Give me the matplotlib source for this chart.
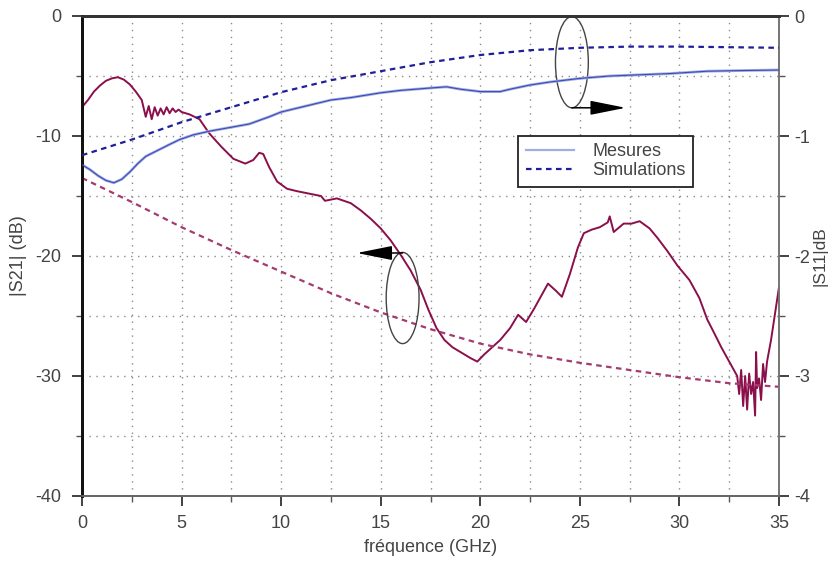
import matplotlib
matplotlib.use("Agg")
import matplotlib.pyplot as plt
from matplotlib.patches import Ellipse
from matplotlib.lines import Line2D
from matplotlib.ticker import MultipleLocator

plt.rcParams['font.family'] = ['Liberation Sans', 'DejaVu Sans']
plt.rcParams['axes.unicode_minus'] = False

# ---------------- data ----------------
# |S21| measured (left axis, dB)
freq_s21_meas = [0, 0.3, 0.6, 0.9, 1.2, 1.5, 1.8, 2.1, 2.4, 2.7, 3.0,
                 3.2, 3.35, 3.5, 3.65, 3.8, 3.95, 4.1, 4.25, 4.4, 4.55, 4.7, 4.85, 5.0,
                 5.4, 5.9, 6.4, 7.0, 7.6, 8.2, 8.6, 8.9, 9.1, 9.4, 9.8,
                 10.3, 10.8, 11.4, 12.0, 12.2, 12.8, 13.5, 14.0, 14.5, 15.0,
                 15.5, 16.0, 16.5, 17.0, 17.4, 17.8, 18.2, 18.6, 19.0, 19.5,
                 19.85, 20.2, 20.6, 21.0, 21.5, 21.9, 22.3, 22.7, 23.1, 23.4,
                 23.8, 24.1, 24.5, 24.9, 25.2, 25.6, 26.0, 26.4, 26.5, 26.7,
                 27.2, 27.6, 28.0, 28.5, 28.9, 29.4, 29.9, 30.5, 31.0, 31.4,
                 31.8, 32.1, 32.5, 32.9, 33.0, 33.1, 33.2, 33.3, 33.4, 33.5,
                 33.6, 33.7, 33.8, 33.85, 33.9, 34.0, 34.1, 34.2, 34.3, 34.4,
                 34.6, 34.8, 35.0]
s21_meas = [-7.6, -7.0, -6.3, -5.8, -5.4, -5.2, -5.1, -5.3, -5.7, -6.3, -7.0,
            -8.4, -7.5, -8.6, -7.6, -8.3, -7.7, -8.2, -7.6, -8.1, -7.7, -8.0, -7.8, -8.0,
            -8.2, -8.6, -9.8, -10.9, -11.9, -12.3, -12.0, -11.4, -11.5, -12.6, -13.8,
            -14.4, -14.6, -14.8, -15.0, -15.4, -15.2, -15.6, -16.2, -16.9, -17.7,
            -18.7, -19.9, -21.2, -22.8, -24.5, -26.0, -27.0, -27.6, -28.0, -28.5,
            -28.8, -28.2, -27.6, -27.0, -26.0, -24.9, -25.5, -24.4, -23.2, -22.3,
            -22.9, -23.4, -21.5, -19.3, -18.1, -17.8, -17.6, -17.2, -16.7, -18.0,
            -17.3, -17.3, -17.1, -17.7, -18.5, -19.6, -20.8, -22.0, -23.5, -25.3,
            -26.6, -27.6, -28.8, -30.0, -31.5, -29.5, -32.5, -30.0, -32.8, -29.8,
            -31.5, -30.5, -33.3, -28.0, -31.0, -30.2, -32.0, -29.0, -30.5, -28.8,
            -27.0, -24.8, -22.6]

# |S21| simulated (left axis, dB)
freq_s21_sim = [0, 2.5, 5, 7.5, 10, 12.5, 15, 17.5, 20, 22.5, 25, 27.5, 30, 32.5, 35]
s21_sim = [-13.5, -15.5, -17.6, -19.5, -21.3, -23.1, -24.7, -26.1, -27.3,
           -28.2, -28.9, -29.5, -30.1, -30.6, -30.9]

# |S11| measured (right axis, dB)
freq_s11_meas = [0, 0.4, 0.8, 1.2, 1.6, 2.0, 2.4, 2.8, 3.2, 3.8, 4.4, 4.9, 5.6,
                 6.4, 7.4, 8.4, 9.4, 10.0, 11.0, 12.0, 12.5, 13.5, 15.0, 16.0,
                 17.5, 18.3, 19.0, 20.0, 21.0, 21.5, 22.5, 23.5, 25.0, 26.5,
                 28.0, 29.5, 31.4, 33.0, 35.0]
s11_meas = [-1.24, -1.28, -1.33, -1.37, -1.39, -1.36, -1.30, -1.23, -1.17, -1.12,
            -1.07, -1.03, -0.99, -0.96, -0.93, -0.90, -0.84, -0.80, -0.76, -0.72,
            -0.70, -0.68, -0.64, -0.62, -0.60, -0.59, -0.61, -0.63, -0.63, -0.61,
            -0.575, -0.55, -0.52, -0.50, -0.49, -0.48, -0.46, -0.455, -0.45]

# |S11| simulated (right axis, dB)
freq_s11_sim = [0, 2.5, 5, 7.5, 10, 12.5, 15, 17.5, 20, 22.5, 25, 27.5, 30, 32.5, 35]
s11_sim = [-1.16, -1.03, -0.885, -0.76, -0.635, -0.535, -0.46, -0.385, -0.325,
           -0.285, -0.265, -0.255, -0.255, -0.26, -0.265]

legend_labels = ["Mesures", "Simulations"]
xlabel = "fréquence (GHz)"
ylabel_left = "|S21| (dB)"
ylabel_right = "|S11|dB"

# annotation ellipses (data coords of left axis)
ell_right_center = (24.6, -3.85)
ell_left_center = (16.1, -23.5)
ell_size = (1.65, 7.6)
arrow_right = ((24.6, -7.65), (27.3, -7.65))
arrow_left = ((16.1, -19.75), (13.8, -19.75))

# ---------------- style ----------------
RED = '#8a0f4a'
RED_SIM = '#a53a70'
BLUE_MEAS = '#4048b8'
BLUE_LIGHT = '#9fb0e0'
BLUE_SIM = '#1f1f9a'
TXT = '#444444'

fig = plt.figure(figsize=(8.35, 5.62), dpi=100)
ax = fig.add_axes([82/835, 1-496/562, (779-82)/835, (496-16)/562])
ax2 = ax.twinx()

# grid
for xv in [2.5*i for i in range(1, 14)]:
    ax.axvline(xv, color='#8a8a8a', lw=1.0, ls=(0, (1, 4)), zorder=0)
for yv in [-5*i for i in range(1, 8)]:
    ax.axhline(yv, color='#8a8a8a', lw=1.0, ls=(0, (1, 4)), zorder=0)

# curves
ax.plot(freq_s21_meas, s21_meas, color=RED, lw=1.4, zorder=3)
ax.plot(freq_s21_sim, s21_sim, color=RED_SIM, lw=1.6, ls=(0, (2.5, 2)), zorder=3)
ax2.plot(freq_s11_meas, s11_meas, color=BLUE_LIGHT, lw=2.0, zorder=2)
ax2.plot(freq_s11_meas, s11_meas, color=BLUE_MEAS, lw=0.8, zorder=3)
ax2.plot(freq_s11_sim, s11_sim, color=BLUE_SIM, lw=1.6, ls=(0, (2.5, 2)), zorder=3)

ax.set_xlim(0, 35)
ax.set_ylim(-40, 0)
ax2.set_ylim(-4, 0)

ax.xaxis.set_major_locator(MultipleLocator(5))
ax.xaxis.set_minor_locator(MultipleLocator(2.5))
ax.yaxis.set_major_locator(MultipleLocator(10))
ax.yaxis.set_minor_locator(MultipleLocator(5))
ax2.yaxis.set_major_locator(MultipleLocator(1))
ax2.yaxis.set_minor_locator(MultipleLocator(0.5))

ax.tick_params(axis='both', which='major', direction='out', length=7, width=1.3,
               colors='#333333', labelcolor=TXT, labelsize=13, pad=8)
ax.tick_params(axis='both', which='minor', direction='out', length=4, width=1.0,
               colors='#555555')
ax.tick_params(axis='x', which='major', pad=7)
ax2.tick_params(axis='y', which='major', direction='out', length=7, width=1.3,
                colors='#333333', labelcolor=TXT, labelsize=13, pad=4)
ax2.tick_params(axis='y', which='minor', direction='out', length=4, width=1.0,
                colors='#555555')

for a in (ax, ax2):
    a.spines['left'].set_linewidth(2.0)
    a.spines['left'].set_color('#111111')
    a.spines['top'].set_linewidth(2.0)
    a.spines['top'].set_color('#333333')
    a.spines['bottom'].set_linewidth(1.3)
    a.spines['bottom'].set_color('#666666')
    a.spines['right'].set_linewidth(1.3)
    a.spines['right'].set_color('#777777')

ax.set_xlabel(xlabel, fontsize=13, color=TXT, labelpad=5)
ax.set_ylabel(ylabel_left, fontsize=13, color=TXT, labelpad=6)
ax2.set_ylabel(ylabel_right, fontsize=12.5, color=TXT, labelpad=2)

# ellipses and arrows
for c in (ell_right_center, ell_left_center):
    ax.add_patch(Ellipse(c, ell_size[0], ell_size[1], fill=False,
                         edgecolor='#444444', lw=1.0, zorder=5))
for (start, end) in (arrow_right, arrow_left):
    ax.annotate('', xy=end, xytext=start,
                arrowprops=dict(arrowstyle='-|>,head_length=1.1,head_width=0.22',
                                color='black', lw=1.1, mutation_scale=20,
                                shrinkA=0, shrinkB=0), zorder=6)

# legend
handles = [Line2D([], [], color=BLUE_LIGHT, lw=1.6),
           Line2D([], [], color=BLUE_SIM, lw=1.6, ls=(0, (2.5, 2)))]
leg = ax2.legend(handles, legend_labels, loc='upper left',
                 bbox_to_anchor=(0.626, 0.75), fontsize=13, frameon=True,
                 fancybox=False, edgecolor='#222222', framealpha=1,
                 handlelength=2.7, borderpad=0.4, labelspacing=0.12,
                 handletextpad=1.0, borderaxespad=0)
leg.get_frame().set_linewidth(1.3)
for t in leg.get_texts():
    t.set_color(TXT)

fig.savefig('out.png', dpi=100)
